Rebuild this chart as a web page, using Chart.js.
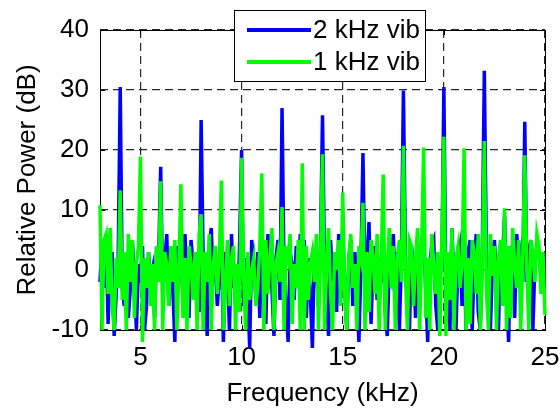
<!DOCTYPE html>
<html>
<head>
    <meta charset="utf-8">
    <title>Relative Power vs Frequency</title>
    <script src="https://cdn.jsdelivr.net/npm/chart.js"></script>
    <style>
        body { margin: 0; background: #fff; }
    </style>
</head>
<body>
    <canvas id="spectrumChart" width="560" height="411"></canvas>
    <script>
        // sampling grid of the spectrum (kHz)
        const freqStart = 3;
        const freqStep = 0.1;

        // 2 kHz vibration, dB (one row per kHz, 3.0 .. 3.9 etc.)
        const vib2k = [
            -2, 5, -3, 6, -9, 0, 3, -11, -4, 2,
            30.5, -3, -6, 2, -8, -3, 5, -2, -10, 1,
            -1, 4, -10, -6, 3, -2, 0, -8, 4, 2,
            17.2, -4, 1, 6, -6, 2, -3, -12, 4, -1,
            3, -5, 6, -2, -8, 5, 1, -4, 3, -7,
            25, 2, -3, -11, 4, 7, -2, 1, -6, -1,
            5, -12, 3, 0, -10, 6, -3, 1, -7, 4,
            20, -6, 2, -3, -13, 5, 1, -4, 3, -8,
            4, -2, -9, 6, 1, -3, -11, 2, 5, -5,
            27, -1, -6, -12, 3, 1, -5, 4, -3, 6,
            -2, 5, -8, 2, -4, -13, 3, 1, -6, 4,
            25.8, 1, -4, -11, 5, -2, 3, -7, 6, 0,
            7, -3, -10, 2, 5, -6, 3, -4, -12, 1,
            19.5, -3, 2, 8, -9, 1, 4, -5, 2, -2,
            5, -7, -11, 1, -1, 6, -4, 3, -10, 2,
            29.9, 2, -5, -10, 4, 1, -8, 3, -2, 5,
            6, -3, -12, 1, 4, 5, -6, -10, 2, 0,
            30.5, -4, 1, -10, 7, -3, -10, 2, 4, -6,
            2, -10, 3, 5, -10, 1, 6, -7, -10, 3,
            33.2, 3, -4, -10, 1, 5, -2, -10, 4, 2,
            9, -3, -12, 4, 2, -8, 6, 1, 3, -2,
            24.7, -2, 3, 5, -10, 1, 4, 3, -1, 2,
            1.7
        ];

        // 1 kHz vibration, dB
        const vib1k = [
            10.8, -10, 5, 6, -4, 7, -6, -10, 2, -3,
            13.3, -5, 3, -10, 6, -2, 5, -8, 1, 4,
            18.9, -12, 2, -3, 3, -6, 1, -10, 4, -2,
            14.8, -10, 3, 1, -6, 4, -2, 5, -10, 0,
            14.3, -8, 2, -10, 4, 1, -5, 3, -10, 6,
            9.3, -10, 3, -2, 6, -10, 1, 4, -4, 2,
            14.9, -10, -3, 5, -6, 2, 4, -10, 1, -7,
            18.7, -1, -10, 3, -5, 0, 2, -6, -3, 4,
            16.1, -10, 5, -4, 2, 7, -10, 1, 3, -2,
            10.5, -10, 4, 2, 6, -9, 1, -3, 5, -10,
            17.8, -10, 4, -5, 1, 3, -2, 6, -10, 2,
            19.3, -10, 1, 7, -4, -10, 3, 0, 5, -6,
            12.9, -4, -10, 2, 6, -3, 1, -10, 4, 2,
            11.2, -10, 3, -7, 5, 2, -4, 6, -10, 1,
            15.9, -10, 0, 7, -3, 4, -10, 2, 5, -2,
            20.7, -1, -10, 5, 4, -6, 2, 7, -10, 3,
            20.4, -8, 2, -10, 6, 1, -4, 3, -11, 5,
            22.2, -11, 3, -5, 7, -10, 2, 4, -3, 1,
            20.3, -10, 2, -9, 5, 3, -4, 6, -10, 1,
            21.5, -3, -10, 6, -1, 4, -10, 2, 5, -6,
            10.3, -10, 4, -8, 7, 1, -3, 5, -10, 2,
            19.1, 0, -10, 5, 3, -2, 6, 4, -4, 3,
            -7.5
        ];

        const seriesLabels = ['2 kHz vib', '1 kHz vib'];
        const seriesColors = ['#0000ff', '#00ff00'];
        const xTicks = [5, 10, 15, 20, 25];
        const yTicks = [-10, 0, 10, 20, 30, 40];

        const FONT = 'Liberation Sans, Arial, sans-serif';

        function toPoints(vals) {
            return vals.map((v, i) => ({ x: freqStart + i * freqStep, y: v }));
        }

        // box around the axes, inward tick marks, legend
        const framePlugin = {
            id: 'frame',
            beforeDatasetsDraw(chart) {
                const { ctx, chartArea: a, scales } = chart;
                ctx.save();
                ctx.strokeStyle = '#000';
                ctx.lineWidth = 1;
                ctx.setLineDash([]);
                ctx.strokeRect(a.left + 0.5, a.top + 0.5, a.right - a.left, a.bottom - a.top);
                ctx.beginPath();
                xTicks.forEach(v => {
                    const px = Math.round(scales.x.getPixelForValue(v)) + 0.5;
                    ctx.moveTo(px, a.bottom); ctx.lineTo(px, a.bottom - 5);
                    ctx.moveTo(px, a.top); ctx.lineTo(px, a.top + 5);
                });
                yTicks.forEach(v => {
                    const py = Math.round(scales.y.getPixelForValue(v)) + 0.5;
                    ctx.moveTo(a.left, py); ctx.lineTo(a.left + 5, py);
                    ctx.moveTo(a.right, py); ctx.lineTo(a.right - 5, py);
                });
                ctx.stroke();
                ctx.restore();
            },
            afterDraw(chart) {
                const ctx = chart.ctx;
                const bx = 234, by = 10, bw = 191, bh = 71;
                ctx.save();
                ctx.fillStyle = '#fff';
                ctx.fillRect(bx, by, bw, bh);
                ctx.strokeStyle = '#000';
                ctx.lineWidth = 1;
                ctx.strokeRect(bx + 0.5, by + 0.5, bw, bh);
                ctx.font = '26px ' + FONT;
                ctx.textBaseline = 'middle';
                ctx.fillStyle = '#000';
                [30, 62].forEach((y, i) => {
                    ctx.strokeStyle = seriesColors[i];
                    ctx.lineWidth = 4;
                    ctx.beginPath();
                    ctx.moveTo(247, y);
                    ctx.lineTo(311, y);
                    ctx.stroke();
                    ctx.fillText(seriesLabels[i], 313, y + 1);
                });
                ctx.restore();
            }
        };

        new Chart(document.getElementById('spectrumChart'), {
            type: 'line',
            data: {
                datasets: [
                    {
                        label: seriesLabels[0],
                        data: toPoints(vib2k),
                        borderColor: seriesColors[0],
                        borderWidth: 3.5,
                        pointRadius: 0,
                        tension: 0,
                        clip: false,
                        order: 1
                    },
                    {
                        label: seriesLabels[1],
                        data: toPoints(vib1k),
                        borderColor: seriesColors[1],
                        borderWidth: 3.5,
                        pointRadius: 0,
                        tension: 0,
                        clip: false,
                        order: 0
                    }
                ]
            },
            options: {
                responsive: false,
                animation: false,
                layout: { padding: { top: 30, right: 15, bottom: 0, left: 0 } },
                plugins: { legend: { display: false }, tooltip: { enabled: false } },
                scales: {
                    x: {
                        type: 'linear',
                        min: 3,
                        max: 25,
                        afterBuildTicks: s => { s.ticks = xTicks.map(v => ({ value: v })); },
                        afterFit: s => { s.height = 81; s.paddingLeft = 0; s.paddingRight = 0; },
                        grid: { color: '#262626', lineWidth: 1.2, drawTicks: false },
                        border: { display: false, dash: [8, 5] },
                        ticks: { color: '#000', font: { family: FONT, size: 26 }, padding: 12, maxRotation: 0 },
                        title: {
                            display: true,
                            text: 'Frequency (kHz)',
                            color: '#000',
                            font: { family: FONT, size: 26 },
                            padding: { top: 0, bottom: 2 }
                        }
                    },
                    y: {
                        min: -10,
                        max: 40,
                        afterBuildTicks: s => { s.ticks = yTicks.map(v => ({ value: v })); },
                        afterFit: s => { s.width = 100; s.paddingTop = 0; s.paddingBottom = 0; },
                        grid: { color: '#262626', lineWidth: 1.2, drawTicks: false },
                        border: { display: false, dash: [8, 5] },
                        ticks: { color: '#000', font: { family: FONT, size: 26 }, padding: 11 },
                        title: {
                            display: true,
                            text: 'Relative Power (dB)',
                            color: '#000',
                            font: { family: FONT, size: 26 },
                            padding: { top: 12, bottom: 0 }
                        }
                    }
                }
            },
            plugins: [framePlugin]
        });
    </script>
</body>
</html>
